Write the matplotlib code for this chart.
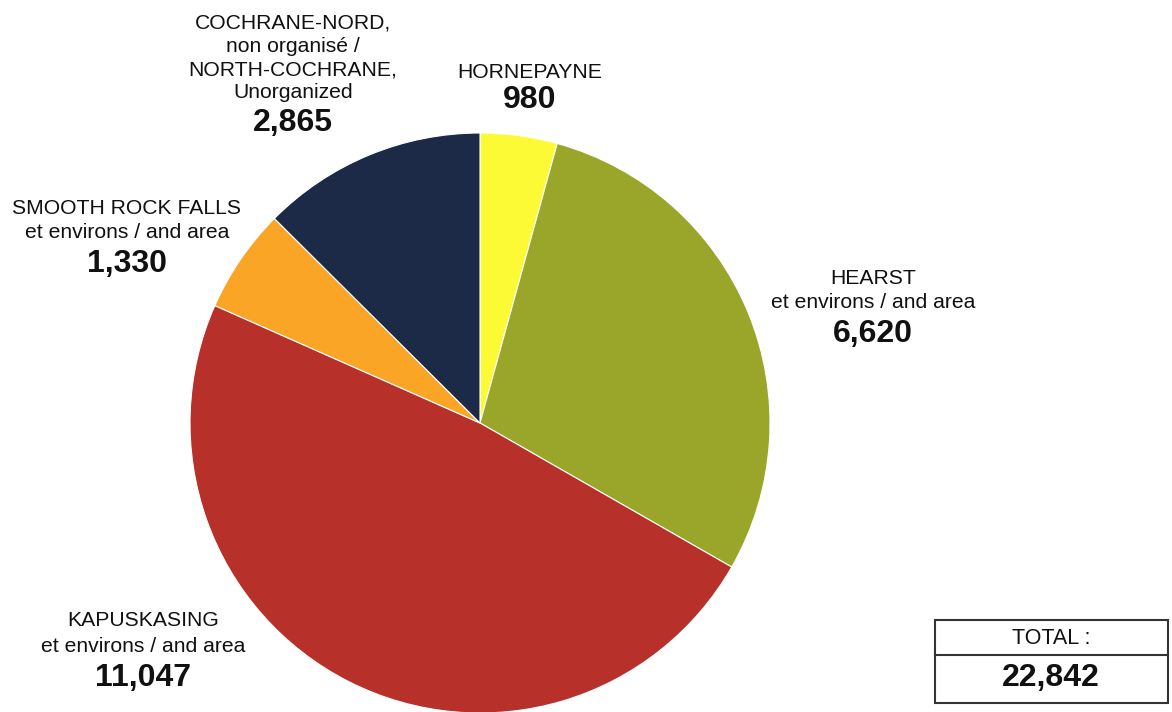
import numpy as np
from matplotlib import pyplot as plt
from matplotlib.patches import Rectangle

plt.rcParams['font.family'] = ['Liberation Sans', 'DejaVu Sans']

# data (clockwise from top)
regions = ["HORNEPAYNE", "HEARST", "KAPUSKASING", "SMOOTH ROCK FALLS", "COCHRANE-NORD"]
values = [980, 6620, 11047, 1330, 2865]
label_lines = [
    ["HORNEPAYNE"],
    ["HEARST", "et environs / and area"],
    ["KAPUSKASING", "et environs / and area"],
    ["SMOOTH ROCK FALLS", "et environs / and area"],
    ["COCHRANE-NORD,", "non organisé /", "NORTH-COCHRANE,", "Unorganized"],
]
colors = ["#fcfa34", "#9aa62a", "#b8302a", "#fba526", "#1c2a48"]
total = 22842

# label anchors in pixel coords (x centre, y of first line from top)
label_pos = [(530, 73), (873, 278), (143, 621), (127, 209), (293, 23)]
line_gap = [0, 25, 25, 24, 23.3]
num_gap = [27, 31, 32, 31, 30]

W, H = 1172, 712
fig = plt.figure(figsize=(W / 100, H / 100), dpi=100)
ax = fig.add_axes([0, 0, 1, 1])
ax.set_xlim(0, W)
ax.set_ylim(0, H)
ax.set_aspect("equal")
ax.axis("off")

ax.pie(values, colors=colors, startangle=90, counterclock=False,
       center=(480, H - 423), radius=290,
       wedgeprops=dict(edgecolor="white", linewidth=0.8))
ax.set_xlim(0, W)
ax.set_ylim(0, H)

for i, lines in enumerate(label_lines):
    x, y = label_pos[i]
    for j, line in enumerate(lines):
        ax.text(x, H - (y + j * line_gap[i]), line, ha="center", va="center",
                fontsize=15.2, color="#111111")
    ny = y + (len(lines) - 1) * line_gap[i] + num_gap[i]
    ax.text(x, H - ny, f"{values[i]:,}", ha="center", va="center",
            fontsize=23, fontweight="bold", color="#111111")

# total box
ax.add_patch(Rectangle((935, H - 703), 233, 83, fill=False, edgecolor="#333333", linewidth=1.5))
ax.plot([935, 1168], [H - 655, H - 655], color="#333333", linewidth=1.5)
ax.text(1051, H - 638, "TOTAL :", ha="center", va="center", fontsize=15.5, color="#111111")
ax.text(1051, H - 678, f"{total:,}", ha="center", va="center",
        fontsize=23, fontweight="bold", color="#111111")

fig.savefig("out.png", dpi=100)
